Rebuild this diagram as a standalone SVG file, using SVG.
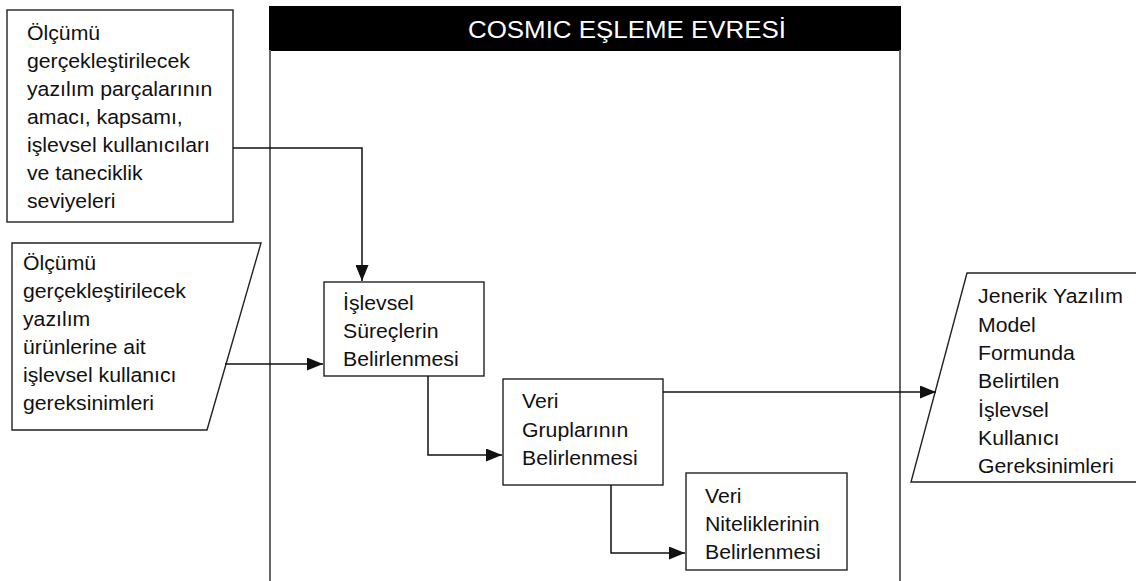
<svg xmlns="http://www.w3.org/2000/svg" width="1136" height="581" viewBox="0 0 1136 581">
  <style>
    .box { fill: #fff; stroke: #222; stroke-width: 1.4; }
    .lane { stroke: #666; stroke-width: 2; fill: none; }
    .conn { stroke: #111; stroke-width: 1.5; fill: none; }
    .t { font-family: "Liberation Sans", Arial, sans-serif; font-size: 19.5px; fill: #111; }
    .head { font-family: "Liberation Sans", Arial, sans-serif; font-size: 23px; fill: #fff; }
  </style>
  <defs>
    <marker id="arrow" markerUnits="userSpaceOnUse" markerWidth="17" markerHeight="13" refX="16" refY="6.5" orient="auto">
      <path d="M0,0 L16,6.5 L0,13 z" fill="#111"/>
    </marker>
  </defs>

  <rect width="1136" height="581" fill="#fff"/>

  <!-- COSMIC mapping phase swimlane -->
  <g id="phase">
    <rect x="269" y="6" width="632" height="45" fill="#000"/>
    <text class="head" x="468" y="37.5" textLength="318" lengthAdjust="spacingAndGlyphs">COSMIC EŞLEME EVRESİ</text>
    <line class="lane" x1="270" y1="50" x2="270" y2="581"/>
    <line class="lane" x1="900" y1="50" x2="900" y2="581"/>
  </g>

  <!-- input: purpose, scope, users, granularity -->
  <g id="input-scope">
    <rect class="box" x="7" y="10" width="226" height="212"/>
    <text class="t" transform="translate(27 0) scale(1.09 1)">
      <tspan x="0" y="40">Ölçümü</tspan>
      <tspan x="0" y="68">gerçekleştirilecek</tspan>
      <tspan x="0" y="96">yazılım parçalarının</tspan>
      <tspan x="0" y="124">amacı, kapsamı,</tspan>
      <tspan x="0" y="152">işlevsel kullanıcıları</tspan>
      <tspan x="0" y="180">ve taneciklik</tspan>
      <tspan x="0" y="208">seviyeleri</tspan>
    </text>
  </g>

  <!-- input: functional user requirements -->
  <g id="input-fur">
    <polygon class="box" points="12,243 261,243 207,430 12,430"/>
    <text class="t" transform="translate(23 0) scale(1.09 1)">
      <tspan x="0" y="270">Ölçümü</tspan>
      <tspan x="0" y="298">gerçekleştirilecek</tspan>
      <tspan x="0" y="326">yazılım</tspan>
      <tspan x="0" y="354">ürünlerine ait</tspan>
      <tspan x="0" y="382">işlevsel kullanıcı</tspan>
      <tspan x="0" y="410">gereksinimleri</tspan>
    </text>
  </g>

  <g id="functional-processes">
    <rect class="box" x="324" y="282" width="160" height="94"/>
    <text class="t" transform="translate(343 0) scale(1.09 1)">
      <tspan x="0" y="310">İşlevsel</tspan>
      <tspan x="0" y="338">Süreçlerin</tspan>
      <tspan x="0" y="366">Belirlenmesi</tspan>
    </text>
  </g>

  <g id="data-groups">
    <rect class="box" x="503" y="379" width="160" height="106"/>
    <text class="t" transform="translate(522 0) scale(1.09 1)">
      <tspan x="0" y="408">Veri</tspan>
      <tspan x="0" y="437">Gruplarının</tspan>
      <tspan x="0" y="465">Belirlenmesi</tspan>
    </text>
  </g>

  <g id="data-attributes">
    <rect class="box" x="686" y="473" width="161" height="97"/>
    <text class="t" transform="translate(705 0) scale(1.09 1)">
      <tspan x="0" y="503">Veri</tspan>
      <tspan x="0" y="531">Niteliklerinin</tspan>
      <tspan x="0" y="559">Belirlenmesi</tspan>
    </text>
  </g>

  <!-- output: generic software model -->
  <g id="output-model">
    <polygon class="box" points="967,273 1142,273 1142,482 911,482"/>
    <text class="t" transform="translate(978 0) scale(1.09 1)">
      <tspan x="0" y="303" textLength="133" lengthAdjust="spacing">Jenerik Yazılım</tspan>
      <tspan x="0" y="332">Model</tspan>
      <tspan x="0" y="360">Formunda</tspan>
      <tspan x="0" y="388">Belirtilen</tspan>
      <tspan x="0" y="417">İşlevsel</tspan>
      <tspan x="0" y="445">Kullanıcı</tspan>
      <tspan x="0" y="473">Gereksinimleri</tspan>
    </text>
  </g>

  <g id="connectors">
    <path class="conn" d="M233,148 H362 V281" marker-end="url(#arrow)"/>
    <path class="conn" d="M225,364 H323" marker-end="url(#arrow)"/>
    <path class="conn" d="M428,376 V455 H502" marker-end="url(#arrow)"/>
    <path class="conn" d="M663,392 H936" marker-end="url(#arrow)"/>
    <path class="conn" d="M611,485 V553 H685" marker-end="url(#arrow)"/>
  </g>
</svg>
